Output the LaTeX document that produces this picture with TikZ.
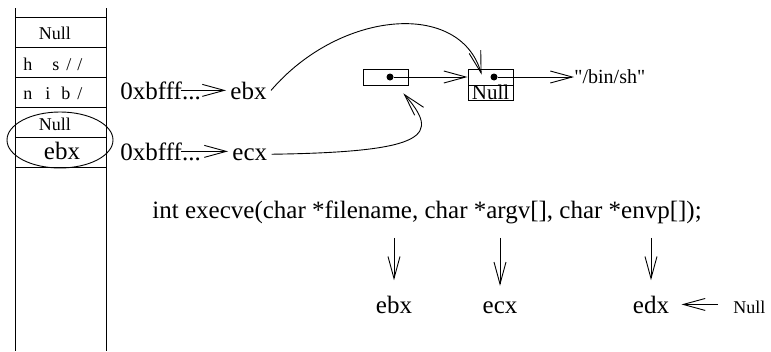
\documentclass[tikz,border=0pt]{standalone}
\usepackage{fontspec}
\setmainfont{Liberation Serif}[Ligatures=TeXOff]
\usetikzlibrary{arrows.meta}

\begin{document}
\begin{tikzpicture}[x=1pt,y=-1pt,line width=0.9pt,
  barb/.style={-{Straight Barb[length=22pt,width=12pt]}},
  big/.style={font=\fontsize{25}{28}\selectfont,inner sep=0pt},
  small/.style={font=\fontsize{18}{20}\selectfont,inner sep=0pt}]
\useasboundingbox (0,0) rectangle (771,351);

% Draw stack
\draw (15,8) -- (15,351);
\draw (106,8) -- (106,351);
\foreach \y in {17,47,...,167} \draw (15,\y) -- (106,\y);

% Stack contents
\node[small,anchor=base] (s1) at (55,39) {Null};
\node[small,anchor=base] (s2) at (53,70) {h\hspace{20pt}s\hspace{7pt}/\hspace{6pt}/};
\node[small,anchor=base] (s3) at (53,99) {n\hspace{13pt}i\hspace{11pt}b\hspace{7pt}/};
\node[small,anchor=base] (s4) at (55,130) {Null};
\node[big,anchor=base] (s5) at (62,159) {ebx};
\draw (60,140) ellipse [x radius=53, y radius=28];

% Registers
\node[big,anchor=base west] (addr1) at (120,99) {0xbfff...};
\node[big,anchor=base west,inner xsep=4pt] (reg1) at (226,99) {ebx};
\node[big,anchor=base west] (addr2) at (120,160) {0xbfff...};
\node[big,anchor=base west,inner xsep=4pt] (reg2) at (228,160) {ecx};
\draw[barb] ([xshift=-20pt]addr1.east) -- (addr1.east -| reg1.west);
\draw[barb] ([xshift=-20pt]addr2.east) -- (addr2.east -| reg2.west);

% Pointer cells
\node[draw,minimum width=45pt,minimum height=16pt,inner sep=0pt] (cell1) at (385.5,77) {};
\node[draw,minimum width=45pt,minimum height=16pt,inner sep=0pt] (cell2) at (490.5,77) {};
\node[draw,minimum width=45pt,minimum height=15pt,inner sep=0pt,
  font=\fontsize{21}{21}\selectfont,text height=13pt,text depth=0pt] (nullcell) at (490.5,92.5) {Null};
\node[circle,fill,inner sep=0pt,minimum size=7pt] (dot1) at (390,77) {};
\node[circle,fill,inner sep=0pt,minimum size=7pt] (dot2) at (494,77) {};
\node[anchor=west,inner sep=0pt,font=\fontsize{20}{20}\selectfont] (sh) at (574,77) {"/bin/sh"};
\draw[barb] (dot1) -- (cell2.west);
\draw[barb] (dot2) -- (sh.west);

% Curved pointers
\draw[barb] (reg1.east) .. controls (340,10) and (460,0) .. ([xshift=14pt,yshift=-6pt]cell2.north west);
\draw[barb] (reg2.east) .. controls (430,152) and (440,135) .. ([xshift=-5pt,yshift=-8pt]cell1.south east);

% System call
\node[big,anchor=base west] (proto) at (152,218) {int execve(char *filename, char *argv[], char *envp[]);};
\node[big,anchor=base] (lebx) at (394,313) {ebx};
\node[big,anchor=base] (lecx) at (500,313) {ecx};
\node[big,anchor=base] (ledx) at (651,313) {edx};
\node[small,anchor=base west] (lnull) at (733,313) {Null};
\draw[barb,shorten <=14pt,shorten >=15pt] (proto.south -| lebx.north) -- (lebx.north);
\draw[barb,shorten <=14pt,shorten >=15pt] (proto.south -| lecx.north) -- (lecx.north);
\draw[barb,shorten <=14pt,shorten >=15pt] (proto.south -| ledx.north) -- (ledx.north);
\draw[barb,shorten <=15pt,shorten >=12pt] (lnull.west |- ledx.east) -- (ledx.east);
\end{tikzpicture}
\end{document}
